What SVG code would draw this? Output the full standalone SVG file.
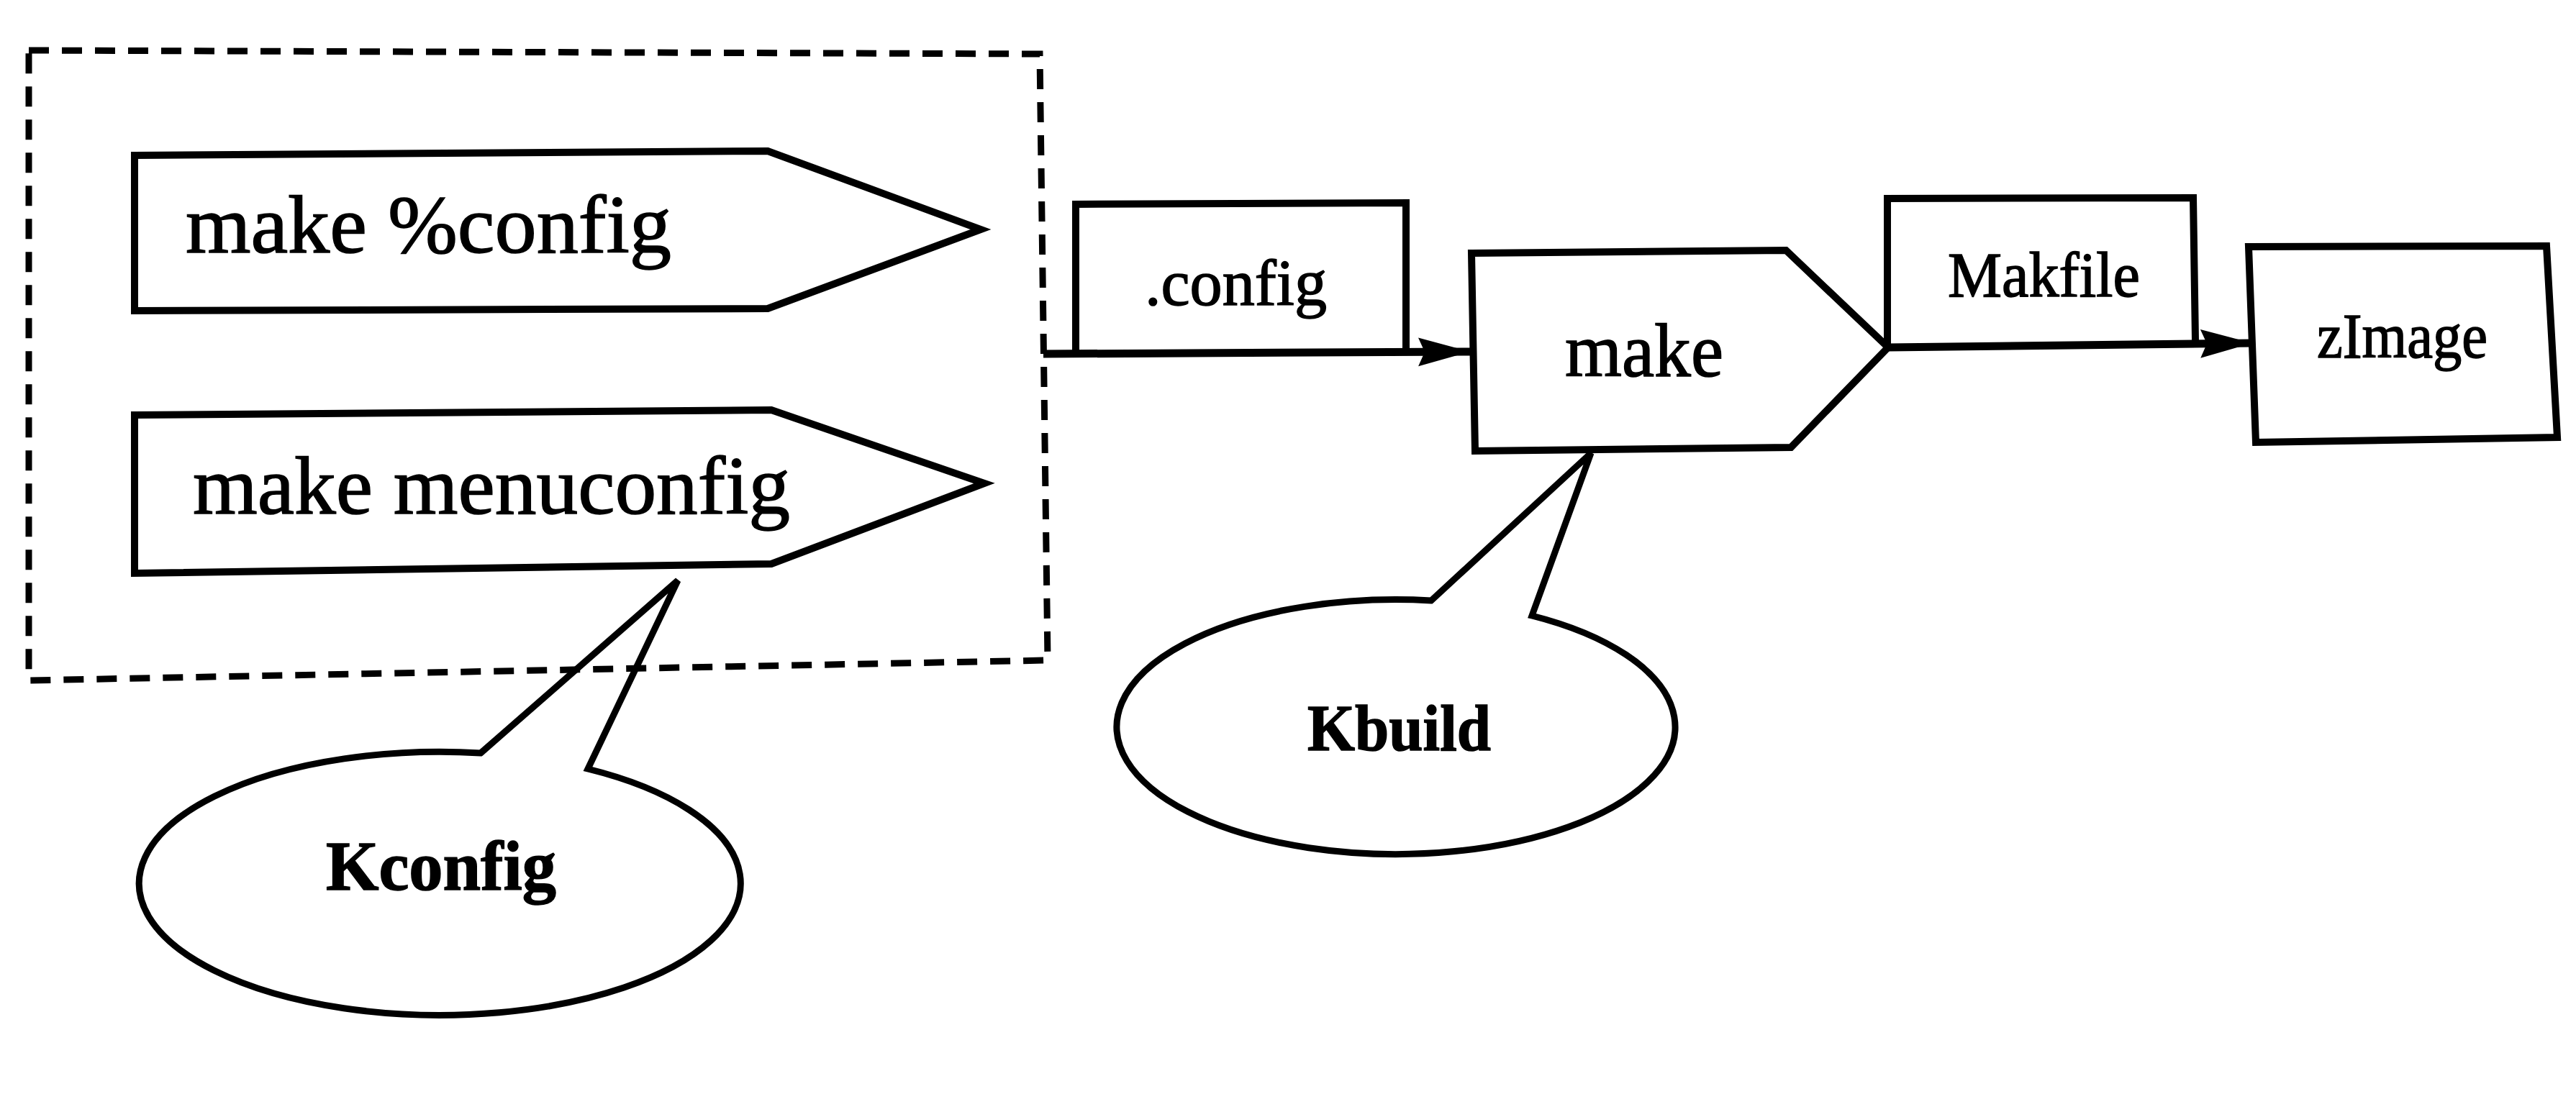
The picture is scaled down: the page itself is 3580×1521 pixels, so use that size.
<svg xmlns="http://www.w3.org/2000/svg" width="3580" height="1521" viewBox="0 0 3580 1521">
<style>
.shape{fill:none;stroke:#000;stroke-width:10;stroke-linejoin:miter}
.callout{fill:none;stroke:#000;stroke-width:9;stroke-linejoin:miter}
.dash{fill:none;stroke:#000;stroke-width:9;stroke-dasharray:28 18}
.conn{fill:none;stroke:#000;stroke-width:11}
.t{font-family:"Liberation Serif","Times New Roman",serif;fill:#000;stroke:#000;stroke-width:1.5}
.b{font-weight:bold}
</style>
<defs>
<marker id="arrow" markerUnits="userSpaceOnUse" markerWidth="76" markerHeight="42" refX="72" refY="20" orient="auto">
<path d="M0,0 L72,20 L0,40 L9,20 Z" fill="#000"/>
</marker>
</defs>
<rect x="0" y="0" width="3580" height="1521" fill="#fff"/>
<g id="kconfig-group">
<path class="dash" d="M40,70 L1445,75 L1456,918 L40,946 Z"/>
</g>
<g id="node-make-percent-config">
<path class="shape" d="M187,216 L1067,210 L1363,319 L1067,429 L187,432 Z"/>
<text class="t" x="258" y="351" font-size="115" textLength="675" lengthAdjust="spacingAndGlyphs">make %config</text>
</g>
<g id="node-make-menuconfig">
<path class="shape" d="M187,577 L1072,570 L1368,672 L1072,784 L187,797 Z"/>
<text class="t" x="268" y="714" font-size="115" textLength="830" lengthAdjust="spacingAndGlyphs">make menuconfig</text>
</g>
<g id="node-kconfig">
<path class="callout" d="M668,1047 L942,807 L817,1069 A418 183 0 1 1 668,1047 Z"/>
<text class="t b" x="453" y="1237" font-size="98" textLength="320" lengthAdjust="spacingAndGlyphs">Kconfig</text>
</g>
<g id="node-config">
<path class="shape" d="M1495,492 L1495,284 L1954,282 L1954,490"/>
<text class="t" x="1591" y="424" font-size="90" textLength="253" lengthAdjust="spacingAndGlyphs">.config</text>
</g>
<g id="node-make">
<path class="shape" d="M2045,352 L2482,348 L2624,483 L2489,622 L2050,627 Z"/>
<text class="t" x="2175" y="523" font-size="106" textLength="220" lengthAdjust="spacingAndGlyphs">make</text>
</g>
<g id="node-kbuild">
<path class="callout" d="M1989,835 L2211,630 L2129,856 A388 177 0 1 1 1989,835 Z"/>
<text class="t b" x="1817" y="1043" font-size="92" textLength="255" lengthAdjust="spacingAndGlyphs">Kbuild</text>
</g>
<g id="node-makfile">
<path class="shape" d="M2623,480 L2623,276 L3048,275 L3051,473"/>
<text class="t" x="2707" y="412" font-size="88" textLength="267" lengthAdjust="spacingAndGlyphs">Makfile</text>
</g>
<g id="node-zimage">
<path class="shape" d="M3125,343 L3539,342 L3554,608 L3135,615 Z"/>
<text class="t" x="3220" y="497" font-size="88" textLength="237" lengthAdjust="spacingAndGlyphs">zImage</text>
</g>
<g id="connectors">
<path class="conn" d="M1450,492 L2043,489" marker-end="url(#arrow)"/>
<path class="conn" d="M2624,483 L3130,477" marker-end="url(#arrow)"/>
</g>
</svg>
